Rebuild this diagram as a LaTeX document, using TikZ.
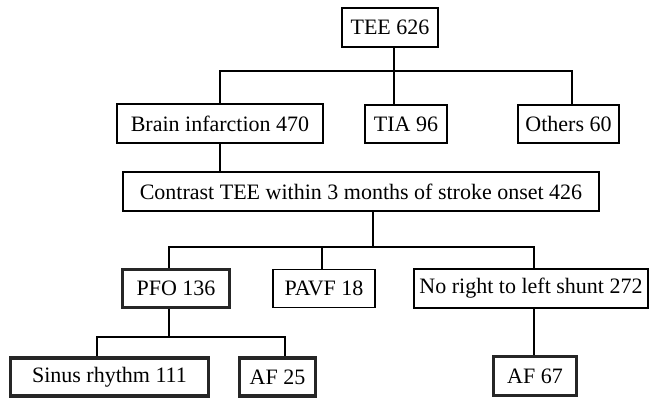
\documentclass[tikz,border=0pt]{standalone}
\usepackage{fontspec}
\setmainfont{Liberation Serif}
\begin{document}
\begin{tikzpicture}[x=1pt,y=-1pt,
  every node/.style={inner sep=0pt, font=\fontsize{22}{24}\selectfont},
  plainbox/.style={draw, line width=1.1pt},
  boldbox/.style={draw=black!85, line width=3.2pt},
  link/.style={line width=1.2pt}]
\useasboundingbox (0,0) rectangle (651,400);
% level 0
\node[plainbox, minimum width=96pt, minimum height=39pt] (tee) at (390,27.5) {TEE 626};
% level 1
\node[plainbox, minimum width=206pt, minimum height=39pt] (brain) at (220,123.5) {Brain infarction 470};
\node[plainbox, minimum width=82pt, minimum height=38pt] (tia) at (406,124) {TIA 96};
\node[plainbox, minimum width=101pt, minimum height=38pt] (others) at (568.5,124) {Others 60};
% level 2
\node[plainbox, minimum width=476pt, minimum height=39pt] (contrast) at (361,191.5) {Contrast TEE within 3 months of stroke onset 426};
% level 3
\node[boldbox, minimum width=107pt, minimum height=38pt] (pfo) at (176,288.5) {PFO 136};
\node[plainbox, minimum width=102pt, minimum height=38pt] (pavf) at (324,288.5) {PAVF 18};
\node[plainbox, minimum width=234pt, minimum height=39pt] (noshunt) at (531,288.5) {No right to left shunt 272};
% level 4
\node[boldbox, minimum width=198pt, minimum height=38pt] (sinus) at (109.5,377) {Sinus rhythm 111};
\node[boldbox, minimum width=76pt, minimum height=38pt] (af25) at (277.5,377) {AF 25};
\node[boldbox, minimum width=83pt, minimum height=39pt] (af67) at (535,376) {AF 67};
% junctions
\coordinate (j0) at (394,71);
\coordinate (j1) at (220,71);
\coordinate (j2) at (572,71);
\coordinate (k0) at (373,247);
\coordinate (k1) at (169,247);
\coordinate (k2) at (322,247);
\coordinate (k3) at (534,247);
\coordinate (m0) at (169,337);
\coordinate (m1) at (97,337);
\coordinate (m2) at (285,337);
% connectors
\draw[link] (tee.south -| j0) -- (tia.north -| j0);
\draw[link] (brain.north -| j1) -- (j1) -- (j2) -- (others.north -| j2);
\draw[link] (brain.south -| j1) -- (contrast.north -| j1);
\draw[link] (contrast.south -| k0) -- (k0);
\draw[link] (pfo.north -| k1) -- (k1) -- (k3) -- (noshunt.north -| k3);
\draw[link] (k2) -- (pavf.north -| k2);
\draw[link] (pfo.south -| m0) -- (m0);
\draw[link] (sinus.north -| m1) -- (m1) -- (m2) -- (af25.north -| m2);
\draw[link] (noshunt.south -| k3) -- (af67.north -| k3);
\end{tikzpicture}
\end{document}
